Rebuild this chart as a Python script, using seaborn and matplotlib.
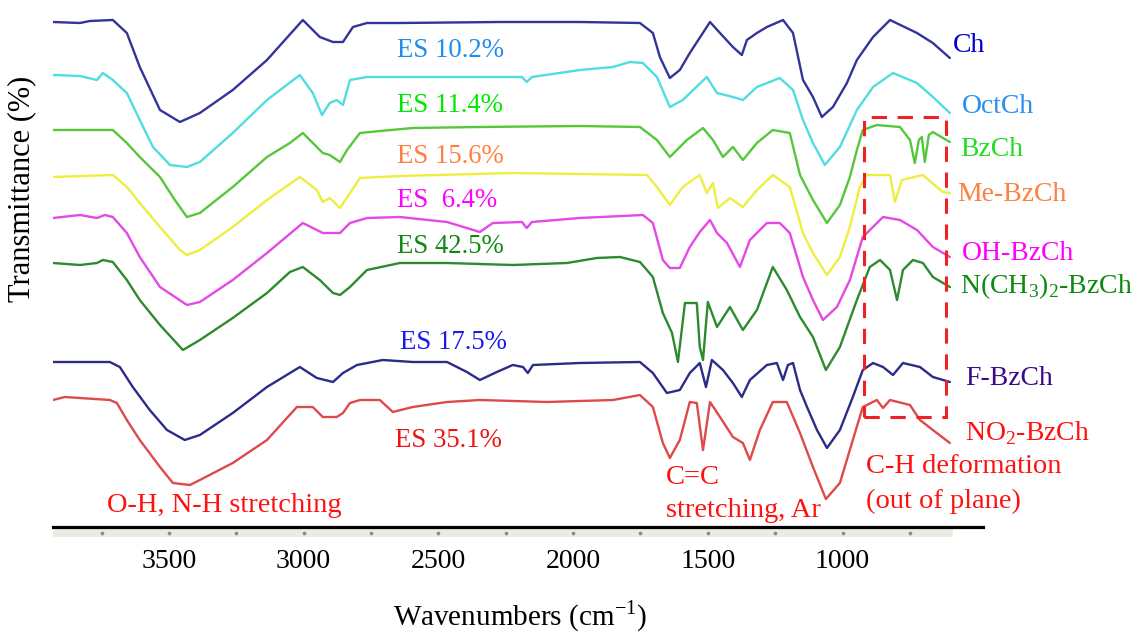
import matplotlib
matplotlib.use("Agg")
import matplotlib.pyplot as plt
from matplotlib.patches import Rectangle
import seaborn as sns
import pandas as pd

# ---- data: (wavenumber cm-1, relative transmittance, stacked offset units) ----
CH = [(3930,518),(3830,517),(3793,519),(3708,520),(3656,507),(3608,473),(3533,430),(3459,418),(3385,427),(3263,450),
      (3136,480),(3003,520),(2940,503),(2891,498),(2854,498),(2817,513),(2765,517),(2643,517),(2272,518),(1975,518),
      (1752,517),(1704,507),(1678,483),(1641,462),(1604,470),(1567,487),(1492,518),(1455,507),(1407,493),(1374,485),
      (1355,500),(1318,507),(1281,513),(1221,520),(1184,507),(1147,460),(1110,443),(1077,423),(1036,433),(984,457),
      (947,480),(887,503),(824,520),(724,507),(665,497),(602,482)]
OCTCH = [(3930,465),(3830,464),(3767,460),(3745,467),(3708,460),(3656,447),(3608,420),(3559,393),(3496,375),(3433,373),
         (3385,378),(3263,407),(3136,440),(3014,465),(2966,447),(2932,425),(2903,437),(2877,440),(2854,435),(2828,460),
         (2765,463),(2643,463),(2346,463),(2190,463),(2172,458),(2153,463),(1975,470),(1852,473),(1789,478),(1741,477),
         (1689,463),(1641,433),(1593,440),(1504,463),(1466,447),(1407,443),(1370,440),(1318,453),(1233,462),(1184,450),
         (1147,420),(1110,397),(1066,375),(1010,393),(947,430),(887,453),(813,467),(724,457),(665,443),(602,427)]
BZCH = [(3930,410),(3708,410),(3656,397),(3608,383),(3533,363),(3478,340),(3433,323),(3385,327),(3263,353),(3136,383),
        (3051,397),(3003,407),(2951,393),(2929,387),(2903,385),(2865,378),(2839,390),(2791,407),(2717,409),(2595,412),
        (2346,413),(1975,414),(1752,413),(1689,400),(1641,383),(1578,400),(1518,412),(1481,400),(1444,383),(1407,393),
        (1370,380),(1318,397),(1259,410),(1196,407),(1158,365),(1110,340),(1058,317),(1010,335),(973,363),(947,390),
        (925,410),(873,415),(787,413),(750,400),(732,377),(717,400),(706,403),(695,378),(680,405),(665,408),(602,398)]
ME_BZCH = [(3930,363),(3708,365),(3656,353),(3608,337),(3533,313),(3459,290),(3433,285),(3385,290),(3263,313),(3136,340),
           (3014,363),(2951,350),(2929,338),(2903,342),(2865,332),(2828,347),(2791,362),(2643,364),(2224,367),(1726,365),
           (1689,353),(1641,335),(1593,353),(1530,365),(1504,347),(1481,357),(1463,332),(1418,342),(1370,333),(1318,350),
           (1259,365),(1196,353),(1147,307),(1110,287),(1058,265),(1010,283),(973,313),(936,353),(910,365),(824,365),
           (806,338),(780,360),(702,365),(628,348),(602,347)]
OH_BZCH = [(3930,322),(3830,325),(3767,322),(3738,325),(3708,323),(3656,307),(3608,283),(3533,253),(3433,235),(3385,238),
           (3263,260),(3136,287),(3003,317),(2951,310),(2929,307),(2865,307),(2828,317),(2765,322),(2643,323),(2468,318),
           (2346,308),(2298,317),(2190,318),(2172,312),(2153,318),(1975,322),(1741,325),(1704,317),(1667,280),(1641,272),
           (1604,272),(1567,293),(1530,308),(1492,320),(1466,307),(1429,297),(1381,273),(1344,300),(1281,317),(1233,317),
           (1196,307),(1147,263),(1110,240),(1073,220),(1021,233),(973,260),(925,303),(850,323),(787,320),(724,310),
           (665,293),(602,283)]
NME2_BZCH = [(3930,277),(3830,275),(3767,277),(3745,280),(3708,278),(3656,260),(3608,240),(3533,215),(3448,190),(3385,200),
             (3263,222),(3136,247),(3051,268),(3003,273),(2940,260),(2891,247),(2865,245),(2828,253),(2765,270),(2643,277),
             (2468,277),(2224,275),(2023,277),(1912,282),(1826,283),(1752,278),(1704,263),(1667,227),(1633,207),(1611,178),
             (1585,237),(1541,237),(1530,193),(1518,180),(1500,238),(1466,213),(1418,233),(1370,210),(1318,230),(1259,273),
             (1207,250),(1158,223),(1110,203),(1062,170),(1010,193),(947,240),(899,273),(861,280),(824,270),(798,240),
             (776,270),(739,280),(702,277),(665,263),(602,253)]
F_BZCH = [(3930,178),(3719,178),(3682,173),(3634,153),(3571,130),(3507,110),(3441,100),(3385,105),(3263,127),(3136,153),
          (3014,173),(2951,162),(2891,158),(2854,167),(2802,175),(2706,180),(2595,178),(2468,178),(2394,168),(2346,160),
          (2283,168),(2224,175),(2186,173),(2168,167),(2149,175),(1975,177),(1752,178),(1704,167),(1652,147),(1604,150),
          (1567,167),(1530,177),(1507,153),(1485,180),(1444,170),(1407,157),(1374,143),(1344,160),(1281,175),(1244,177),
          (1221,160),(1203,175),(1184,177),(1158,150),(1132,133),(1095,110),(1058,92),(1010,110),(962,143),(925,170),
          (887,177),(850,173),(813,165),(776,177),(713,173),(665,163),(602,158)]
NO2_BZCH = [(3930,140),(3886,143),(3719,140),(3693,137),(3656,120),(3608,100),(3533,73),(3485,57),(3422,55),(3385,60),
            (3263,77),(3136,100),(3025,133),(2966,133),(2929,123),(2877,123),(2854,127),(2828,137),(2791,140),(2717,140),
            (2669,128),(2595,133),(2468,138),(2346,140),(2097,138),(1852,140),(1752,145),(1704,133),(1667,97),(1641,82),
            (1604,100),(1567,138),(1541,137),(1518,90),(1492,138),(1455,123),(1407,103),(1370,97),(1344,80),(1307,110),
            (1259,138),(1207,138),(1158,107),(1110,73),(1062,41),(1010,57),(962,100),(925,133),(873,140),(850,132),
            (824,140),(750,135),(713,120),(665,110),(602,97)]

SAMPLES = ["Ch", "OctCh", "BzCh", "Me-BzCh", "OH-BzCh", "N(CH3)2-BzCh", "F-BzCh", "NO2-BzCh"]
SPECTRA = [CH, OCTCH, BZCH, ME_BZCH, OH_BZCH, NME2_BZCH, F_BZCH, NO2_BZCH]
LINE_COLORS = ["#33339a", "#4fdde0", "#55c83a", "#eeee40", "#e548e5", "#2e8a2e", "#2b2b88", "#dd4a4a"]
LABELS = ["Ch", "OctCh", "BzCh", "Me-BzCh", "OH-BzCh",
          r"N(CH$_{\mathregular{3}}$)$_{\mathregular{2}}$-BzCh", "F-BzCh", r"NO$_{\mathregular{2}}$-BzCh"]
LABEL_COLORS = ["#0000cc", "#2a8ff0", "#22dd22", "#ff8040", "#ff00ff", "#118811", "#3a0a8a", "#ff1111"]
LABEL_POS = [(590, 488), (557, 427), (565, 384), (576, 339), (557, 280), (565, 247), (546, 155), (546, 100)]

ES_TEXT = ["ES 10.2%", "ES 11.4%", "ES 15.6%", "ES  6.4%", "ES 42.5%", "ES 17.5%", "ES 35.1%"]
ES_COLORS = ["#1e8cf0", "#00e600", "#ff7f40", "#ff00ff", "#118811", "#1a1aee", "#ee1111"]
ES_POS = [(2654, 483), (2654, 428), (2654, 377), (2654, 333), (2654, 287), (2643, 191), (2661, 93)]

XTICKS = [3500, 3000, 2500, 2000, 1500, 1000]
MINOR_DOTS = [3750, 3500, 3250, 3000, 2750, 2500, 2250, 2000, 1750, 1500, 1250, 1000, 750]

rows = []
for name, spec in zip(SAMPLES, SPECTRA):
    for wn, t in spec:
        rows.append({"wavenumber": wn, "T": t, "sample": name})
df = pd.DataFrame(rows)

sns.set_style("white")
plt.rcParams["font.family"] = ["Liberation Serif", "DejaVu Serif"]
plt.rcParams["mathtext.fontset"] = "custom"
plt.rcParams["mathtext.rm"] = "Liberation Serif"
plt.rcParams["text.color"] = "black"
plt.rcParams["xtick.color"] = "black"
plt.rcParams["axes.unicode_minus"] = False

fig = plt.figure(figsize=(11.4, 6.37), dpi=100)
ax = fig.add_axes([53/1140, 110/637, 930/1140, 527/637])

sns.lineplot(data=df, x="wavenumber", y="T", hue="sample", hue_order=SAMPLES,
             palette=dict(zip(SAMPLES, LINE_COLORS)), estimator=None, sort=False,
             linewidth=1.7, legend=False, ax=ax)

ax.set_xlim(3930, 479)
ax.set_ylim(13, 540)
ax.set_xlabel("")
ax.set_ylabel("")
ax.set_yticks([])
ax.set_xticks(XTICKS)
ax.set_xticklabels([str(v) for v in XTICKS])
ax.tick_params(axis="x", length=0, pad=16, labelsize=20, labelcolor="black")
for s in ["top", "right", "left"]:
    ax.spines[s].set_visible(False)
ax.spines["bottom"].set_linewidth(2.3)
ax.spines["bottom"].set_color("black")

# light strip of the instrument axis beneath the black line
ax.add_patch(Rectangle((3930, 3), 590 - 3930, 9, facecolor="#e8ece2", edgecolor="none",
                       clip_on=False, zorder=0, transform=ax.transData))
ax.plot(MINOR_DOTS, [7.5] * len(MINOR_DOTS), ls="none", marker="o", ms=1.6, color="#888888", clip_on=False)

# sample labels at the right
for lab, col, (x, y) in zip(LABELS, LABEL_COLORS, LABEL_POS):
    ax.text(x, y, lab, color=col, fontsize=20, ha="left", va="baseline", clip_on=False)

# degree-of-substitution labels
for lab, col, (x, y) in zip(ES_TEXT, ES_COLORS, ES_POS):
    ax.text(x, y, lab, color=col, fontsize=19.3, ha="left", va="baseline")

# band annotations
red = "#ff1111"
ax.text(3730, 28, "O-H, N-H stretching", color=red, fontsize=20.5, ha="left", va="baseline")
ax.text(1656, 56, "C=C", color=red, fontsize=20.5, ha="left", va="baseline")
ax.text(1656, 23, "stretching, Ar", color=red, fontsize=20.5, ha="left", va="baseline")
ax.text(913, 67, "C-H deformation", color=red, fontsize=20.5, ha="left", va="baseline", clip_on=False)
ax.text(913, 32, "(out of plane)", color=red, fontsize=20.5, ha="left", va="baseline", clip_on=False)

ax.add_patch(Rectangle((921, 123), 617 - 921, 423 - 123, facecolor="none", edgecolor="#ee2222",
                       linewidth=2.2, linestyle=(0, (5, 3.5)), zorder=5))

fig.text(520/1140, 12/637, r"Wavenumbers (cm$^{\mathregular{-1}}$)", fontsize=21, ha="center", va="baseline",
         color="black")
fig.text(22/1140, 1 - 189/637, "Transmittance (%)", fontsize=22, rotation=90, ha="center", va="center",
         color="black")

fig.savefig("out.png", dpi=100)
